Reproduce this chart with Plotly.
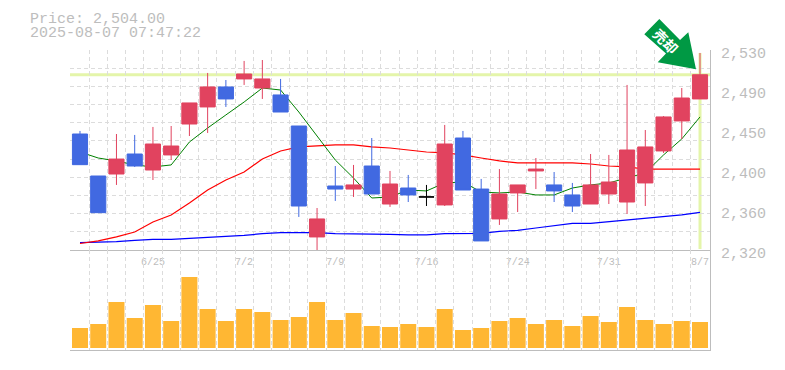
import plotly.graph_objects as go

# ---------- data ----------
opens = [2441.8,2397.7,2399.8,2420.8,2404.0,2419.8,2452.3,2470.2,2491.2,2499.6,2490.1,2482.8,2450.2,2333.7,2387.2,2384.0,2408.2,2368.3,2385.1,2375.7,2367.3,2437.6,2384.0,2352.6,2379.9,2403.0,2388.3,2377.8,2368.3,2378.8,2370.4,2390.4,2424.0,2455.5,2478.6]
highs = [2445.0,2397.7,2441.8,2440.8,2449.2,2450.2,2474.4,2505.9,2498.5,2518.5,2519.5,2499.6,2450.2,2364.1,2408.2,2409.3,2437.6,2403.0,2398.8,2388.3,2451.3,2445.0,2394.6,2405.0,2388.3,2416.6,2401.9,2390.4,2420.8,2419.8,2493.3,2446.0,2460.7,2490.1,2526.9]
lows = [2409.6,2359.2,2388.3,2407.2,2393.5,2414.5,2439.7,2442.9,2470.2,2493.3,2478.6,2464.9,2354.7,2320.0,2371.5,2375.7,2378.8,2365.2,2370.4,2366.2,2366.2,2383.0,2329.5,2346.3,2359.9,2384.0,2370.4,2359.9,2368.3,2368.3,2357.8,2366.2,2421.9,2436.6,2478.6]
closes = [2409.6,2359.2,2415.5,2408.2,2431.3,2429.2,2474.4,2491.2,2478.6,2504.8,2499.6,2464.9,2366.2,2352.6,2384.0,2388.3,2378.8,2389.3,2377.8,2375.7,2431.3,2383.0,2329.5,2378.8,2388.3,2405.0,2382.0,2366.2,2388.3,2391.4,2425.0,2428.2,2459.7,2479.6,2504.0]
ma_green = [2422.9,2416.6,2413.5,2409.3,2407.2,2409.3,2433.4,2448.1,2461.8,2475.4,2490.1,2488.0,2464.9,2439.7,2414.5,2395.6,2374.6,2375.7,2383.0,2382.0,2390.4,2391.4,2380.9,2379.9,2380.9,2377.8,2377.8,2385.1,2388.3,2390.4,2395.6,2400.9,2419.8,2436.6,2459.7]
ma_red = [2326.8,2329.5,2333.7,2338.9,2349.4,2356.8,2369.4,2383.0,2393.5,2401.9,2415.5,2424.0,2428.2,2429.2,2430.3,2430.3,2428.2,2427.1,2425.0,2422.9,2421.9,2419.8,2416.6,2413.5,2411.4,2411.4,2411.4,2411.4,2410.3,2408.2,2407.2,2405.0,2405.0,2405.0,2405.0]
ma_blue = [2327.7,2328.1,2328.7,2330.2,2331.2,2331.2,2332.3,2333.3,2334.0,2335.4,2337.1,2338.2,2338.2,2338.2,2337.1,2337.1,2336.5,2336.5,2335.8,2335.8,2337.1,2337.5,2337.5,2339.6,2340.7,2343.1,2345.2,2348.0,2348.0,2349.7,2351.5,2352.9,2354.7,2356.8,2359.6]
volumes = [20,24,46,30,43,27,71,39,27,39,36,28,31,46,28,35,22,21,24,21,39,18,20,27,30,24,28,22,32,26,41,28,24,27,26]
date_positions = [4,9,14,19,24,29,34]
date_labels = ["6/25","7/2","7/9","7/16","7/24","7/31","8/7"]
price_ticks = [2530,2488,2446,2404,2362,2320]
price_labels = ["2,530","2,490","2,450","2,400","2,360","2,320"]
last_price = 2504.0
title_lines = ["Price: 2,504.00","2025-08-07 07:47:22"]
arrow_label = "売却"

W, H = 785, 370
L, R, T, B = 70, 710, 50, 350
GREY = "#bdbdbd"; GRID = "#dcdcdc"; HL = "#e4f5aa"
MONO = "Liberation Mono"
xs = list(range(len(closes)))
X_RANGE = [-0.548, 34.548]
Y_RANGE = [price_ticks[-1], price_ticks[0]]

def px(x): return (x - L) / (R - L)
def py(y): return (B - y) / (B - T)

fig = go.Figure()
# moving averages sit on the base axes, candles on an overlaid pair so they cover the lines
for vals, col, lw in ((ma_blue, "#0000ff", 1.2), (ma_red, "#ff0000", 1.2), (ma_green, "#008000", 1)):
    fig.add_trace(go.Scatter(x=xs, y=vals, mode="lines", line=dict(color=col, width=lw), hoverinfo="skip", showlegend=False))

doji = [i for i in xs if opens[i] == closes[i]]
reg = [i for i in xs if i not in doji]
fig.add_trace(go.Candlestick(
    x=reg, open=[opens[i] for i in reg], high=[highs[i] for i in reg],
    low=[lows[i] for i in reg], close=[closes[i] for i in reg],
    increasing=dict(line=dict(color="#e1435f", width=1), fillcolor="#e1435f"),
    decreasing=dict(line=dict(color="#4169e1", width=1), fillcolor="#4169e1"),
    whiskerwidth=0, showlegend=False, hoverinfo="skip", xaxis="x3", yaxis="y3"))
fig.add_trace(go.Candlestick(
    x=doji, open=[opens[i] for i in doji], high=[highs[i] for i in doji],
    low=[lows[i] for i in doji], close=[closes[i] for i in doji],
    increasing=dict(line=dict(color="#000000", width=1), fillcolor="#000000"),
    decreasing=dict(line=dict(color="#000000", width=1), fillcolor="#000000"),
    whiskerwidth=0, showlegend=False, hoverinfo="skip", xaxis="x3", yaxis="y3"))
fig.add_trace(go.Bar(x=xs, y=volumes, width=0.877, marker=dict(color="#ffb733", line=dict(width=0)),
                     xaxis="x2", yaxis="y2", showlegend=False, hoverinfo="skip"))

vgrid = [i - 0.5 for i in xs] + [xs[-1] + 0.5]
step = (price_ticks[0] - price_ticks[-1]) / 11
hgrid = [price_ticks[-1] + step * k for k in range(1, 12)]
grid_minor = dict(tickmode="array", showgrid=True, gridcolor=GRID, griddash="4px,3px", gridwidth=1, ticks="")

fig.update_layout(
    width=W, height=H, margin=dict(l=L, r=W - R, t=T, b=H - B, autoexpand=False),
    paper_bgcolor="white", plot_bgcolor="white", boxgap=0.17, boxgroupgap=0, showlegend=False,
    xaxis=dict(domain=[0, 1], range=X_RANGE, anchor="y", rangeslider=dict(visible=False), automargin=False,
               tickmode="array", tickvals=date_positions, ticktext=date_labels,
               tickfont=dict(family=MONO, size=10, color=GREY), ticks="", showgrid=False, zeroline=False,
               showline=True, linecolor=GREY, linewidth=1, ticklabelstandoff=2,
               minor=dict(grid_minor, tickvals=vgrid)),
    yaxis=dict(domain=[1/3, 1], range=Y_RANGE, side="right", anchor="x", automargin=False,
               tickmode="array", tickvals=price_ticks, ticktext=price_labels,
               tickfont=dict(family=MONO, size=15, color=GREY), ticks="", showgrid=False, zeroline=False,
               showline=True, linecolor=GREY, linewidth=1, ticklabelstandoff=7, ticklabelshift=3,
               minor=dict(grid_minor, tickvals=hgrid)),
    xaxis2=dict(domain=[0, 1], range=X_RANGE, anchor="y2", showticklabels=False, ticks="", showgrid=False, zeroline=False,
                showline=True, linecolor=GREY, linewidth=1, automargin=False,
                minor=dict(grid_minor, tickvals=vgrid)),
    yaxis2=dict(domain=[0, 1/3], range=[-2, 98], side="right", anchor="x2", showticklabels=False, ticks="", showgrid=False,
                zeroline=False, showline=True, linecolor=GREY, linewidth=1, automargin=False),
    xaxis3=dict(domain=[0, 1], range=X_RANGE, overlaying="x", anchor="y3", visible=False, rangeslider=dict(visible=False)),
    yaxis3=dict(domain=[1/3, 1], range=Y_RANGE, overlaying="y", anchor="x3", side="right", visible=False),
    shapes=[
        dict(type="line", xref="paper", x0=0, x1=1, yref="y", y0=last_price, y1=last_price, layer="below", line=dict(color=HL, width=3)),
        dict(type="line", xref="x", x0=xs[-1], x1=xs[-1], yref="paper", y0=py(249), y1=py(53), layer="below", line=dict(color=HL, width=3)),
        dict(type="path", xref="paper", yref="paper", fillcolor="#009944", line=dict(width=0), layer="above",
             path="M {} {} ".format(px(659.3), py(19)) + " ".join("L {} {}".format(px(a), py(b)) for a, b in
                  [(680, 40), (688.3, 32.3), (696, 69.3), (657.7, 62.3), (666, 53.5), (644.3, 34.3)]) + " Z"),
    ],
    annotations=[
        dict(text=title_lines[0], xref="paper", yref="paper", x=px(28), y=py(19), xanchor="left", yanchor="middle", showarrow=False,
             font=dict(family=MONO, size=15, color=GREY)),
        dict(text=title_lines[1], xref="paper", yref="paper", x=px(28), y=py(33), xanchor="left", yanchor="middle", showarrow=False,
             font=dict(family=MONO, size=15, color=GREY)),
        dict(text="<b>%s</b>" % arrow_label, xref="paper", yref="paper", x=px(666), y=py(41), xanchor="center", yanchor="middle",
             showarrow=False, textangle=45, font=dict(family="Noto Sans CJK JP", size=14, color="white")),
    ],
)
fig.write_html("out.html", config={"displayModeBar": False}, post_script="document.body.style.margin='0';")
